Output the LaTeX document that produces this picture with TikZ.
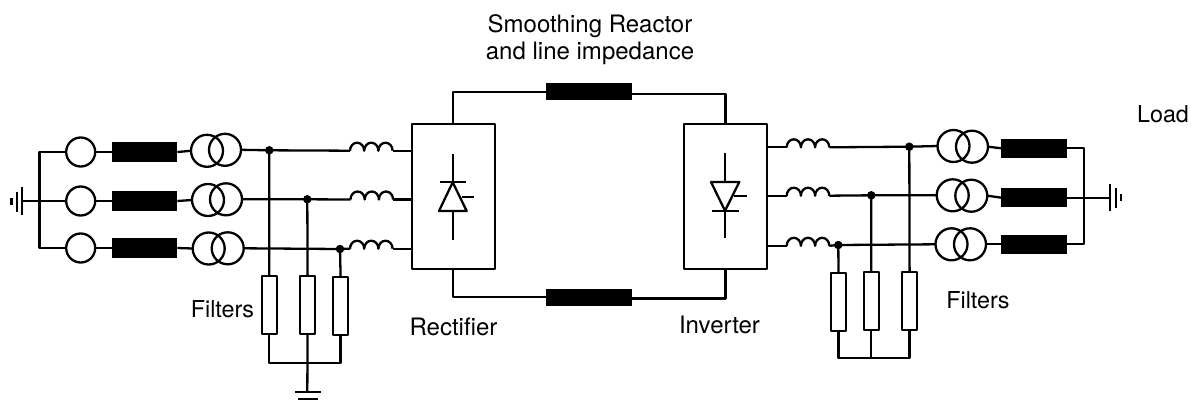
\documentclass[tikz,border=0pt]{standalone}
\usepackage{fontspec}
\setmainfont{TeX Gyre Heros}
\begin{document}
\begin{tikzpicture}[x=1pt,y=-1pt,line width=2.3pt,line join=round,line cap=butt,
  src/.style={circle,draw,minimum size=29pt,inner sep=0pt,outer sep=0pt},
  xf/.style={circle,draw,minimum size=32pt,inner sep=0pt,outer sep=0pt},
  reactor/.style={rectangle,fill=black,minimum width=65.5pt,minimum height=19.5pt,inner sep=0pt,outer sep=0pt},
  dcreactor/.style={rectangle,fill=black,minimum width=85.7pt,minimum height=17pt,inner sep=0pt,outer sep=0pt},
  filt/.style={rectangle,draw,fill=white,minimum width=15pt,minimum height=58pt,inner sep=0pt,outer sep=0pt},
  conv/.style={rectangle,draw,minimum width=83pt,minimum height=145.3pt,inner sep=0pt,outer sep=0pt},
  dot/.style={circle,fill=black,minimum size=8.5pt,inner sep=0pt,outer sep=0pt},
  lbl/.style={font=\fontsize{24}{26.6}\selectfont,inner sep=0pt,outer sep=0pt,anchor=base},
  lblsm/.style={font=\fontsize{23.3}{26.6}\selectfont,inner sep=0pt,outer sep=0pt,anchor=base},
  coil/.style={to path={(\tikztostart) arc[start angle=180,end angle=0,x radius=7.1pt,y radius=8pt]
     arc[start angle=180,end angle=0,x radius=7.1pt,y radius=8pt]
     arc[start angle=180,end angle=0,x radius=7.1pt,y radius=8pt]}}]
\useasboundingbox (0,0) rectangle (1191,405);

% --- left side ---
\coordinate (railA) at (39.5,152);
\coordinate (railB) at (39.5,201);
\coordinate (railC) at (39.5,248);
\coordinate (gndL) at (21.7,201);
\foreach \n/\y in {A/152,B/201,C/248}{
  \node[src] (sL\n) at (80.7,\y) {};
  \node[reactor] (rL\n) at (144.7,\y) {};
}
\node[xf] (tLA1) at (207,150.8) {};
\node[xf] (tLA2) at (225,149.8) {};
\node[xf] (tLB1) at (208,200) {};
\node[xf] (tLB2) at (226,199.3) {};
\node[xf] (tLC1) at (208.7,248.5) {};
\node[xf] (tLC2) at (227.7,248.3) {};
\draw (sLA.west) -- (railA) -- (railC) -- (sLC.west);
\draw (gndL) -- (railB) -- (sLB.west);
\foreach \n in {A,B,C}{
  \draw (sL\n.east) -- (rL\n.west);
  \draw (rL\n.east) -- (tL\n1.west);
}
% ground, left
\draw (gndL |- 0,187) -- (gndL |- 0,215);
\draw (16.7,191.7) -- (16.7,211.7);
\draw[line width=2.6pt] (11.7,198) -- (11.7,205);

% dots and filters, left
\node[dot] (dLA) at (269.3,150.3) {};
\node[dot] (dLB) at (307.3,199.3) {};
\node[dot] (dLC) at (340,249) {};
\coordinate (cLAa) at (350,150.7);
\coordinate (cLAb) at (392.6,150.7);
\coordinate (cLBa) at (350.5,199.5);
\coordinate (cLBb) at (393.1,199.5);
\coordinate (cLCa) at (350,248.7);
\coordinate (cLCb) at (392.6,248.7);
\node[conv] (rect) at (453.2,196.6) {};
\node[conv] (inv) at (725.6,196.6) {};
\draw (tLA2.east) -- (dLA.center) -- (cLAa);
\draw (tLB2.east) -- (dLB.center) -- (cLBa);
\draw (tLC2.east) -- (dLC.center) -- (cLCa);
\foreach \n in {A,B,C}{
  \draw (cL\n a) to[coil] (cL\n b);
  \draw (cL\n b) -- (rect.west |- cL\n b);
}
\node[filt] (fLA) at (269.2,305) {};
\node[filt] (fLB) at (307.6,305) {};
\node[filt] (fLC) at (340.6,306) {};
\coordinate (busLA) at (269.2,362.7);
\coordinate (busLB) at (307.3,362.7);
\coordinate (busLC) at (340.6,362.7);
\coordinate (gndB) at (307.3,391.7);
\draw (dLA.center) -- (fLA.north);
\draw (dLB.center) -- (fLB.north);
\draw (dLC.center) -- (fLC.north);
\draw (fLA.south) -- (busLA) -- (busLC) -- (fLC.south);
\draw (fLB.south) -- (gndB);
\draw (295,391.7) -- (321,391.7);
\draw[line width=2.6pt] (298.3,399) -- (317.7,399);

% --- DC link ---
\node[dcreactor] (dcT) at (588.8,91.7) {};
\node[dcreactor] (dcB) at (588.8,297) {};
\draw (rect.north) -- (rect.north |- dcT.west) -- (dcT.west);
\draw (dcT.east) ++(0,2) -- (inv.north |- 0,93.7) -- (inv.north);
\draw (rect.south) -- (rect.south |- dcB.west) -- (dcB.west);
\draw (dcB.east) ++(0,1.5) -- (inv.south |- 0,298.5) -- (inv.south);

% thyristors
\draw (452.7,154) -- (452.7,240);
\draw[fill=white] (452.7,182.3) -- (466.7,211) -- (439,211) -- cycle;
\draw (439.5,182.3) -- (466,182.3);
\draw (461.7,197) -- (474,197);
\draw (725,153.3) -- (725,238.3);
\draw[fill=white] (725,210.7) -- (711,182) -- (739.3,182) -- cycle;
\draw (712,210.7) -- (738.7,210.7);
\draw (734.3,196.3) -- (746.7,196.3);

% --- right side ---
\coordinate (cRAa) at (786.7,147.3);
\coordinate (cRAb) at (829.3,147.3);
\coordinate (cRBa) at (786.7,195.7);
\coordinate (cRBb) at (829.3,195.7);
\coordinate (cRCa) at (786.7,245.8);
\coordinate (cRCb) at (829.3,245.8);
\foreach \n in {A,B,C}{
  \draw (inv.east |- cR\n a) -- (cR\n a);
  \draw (cR\n a) to[coil] (cR\n b);
}
\node[dot] (dRA) at (909.3,146.7) {};
\node[dot] (dRB) at (871.3,195.3) {};
\node[dot] (dRC) at (838.3,245) {};
\node[xf] (tRA1) at (953.5,146) {};
\node[xf] (tRA2) at (972,146.7) {};
\node[xf] (tRB1) at (952.7,195.3) {};
\node[xf] (tRB2) at (971.3,195.7) {};
\node[xf] (tRC1) at (951.5,244.3) {};
\node[xf] (tRC2) at (970,244.3) {};
\draw (cRAb) -- (dRA.center) -- (tRA1.west);
\draw (cRBb) -- (dRB.center) -- (tRB1.west);
\draw (cRCb) -- (dRC.center) -- (tRC1.west);
\node[filt] (fRC) at (838.5,302.3) {};
\node[filt] (fRB) at (871.2,301.3) {};
\node[filt] (fRA) at (909.6,301.3) {};
\draw (dRA.center) -- (fRA.north);
\draw (dRB.center) -- (fRB.north);
\draw (dRC.center) -- (fRC.north);
\coordinate (busRC) at (838.5,358.3);
\coordinate (busRB) at (871.2,358.3);
\coordinate (busRA) at (909.6,358.3);
\draw (fRC.south) -- (busRC) -- (busRA) -- (fRA.south);
\draw (fRB.south) -- (busRB);
\node[reactor] (rRA) at (1034.2,148.3) {};
\node[reactor] (rRB) at (1034.2,197.7) {};
\node[reactor] (rRC) at (1034.2,244.3) {};
\coordinate (railRA) at (1083.7,148.3);
\coordinate (railRB) at (1083.7,197.7);
\coordinate (railRC) at (1083.7,244.3);
\coordinate (gndR) at (1110.3,197.7);
\foreach \n in {A,B,C}{
  \draw (tR\n2.east) -- (rR\n.west);
}
\draw (rRA.east) -- (railRA) -- (railRC) -- (rRC.east);
\draw (rRB.east) -- (gndR);
\draw (1110.3,184) -- (1110.3,211.3);
\draw (1115.7,187.5) -- (1115.7,207.5);
\draw[line width=2.6pt] (1121,194.3) -- (1121,201.3);

% --- labels ---
\node[lbl] (lab1) at (590,32.7) {Smoothing Reactor};
\node[lbl] (lab2) at (590,59.3) {and line impedance};
\node[lblsm] (lab3) at (222.5,317.7) {Filters};
\node[lblsm] (lab4) at (978,308.3) {Filters};
\node[lbl] (lab5) at (453.5,335) {Rectifier};
\node[lbl] (lab6) at (719.5,333.3) {Inverter};
\node[lblsm] (lab7) at (1163,122.7) {Load};
\end{tikzpicture}
\end{document}
